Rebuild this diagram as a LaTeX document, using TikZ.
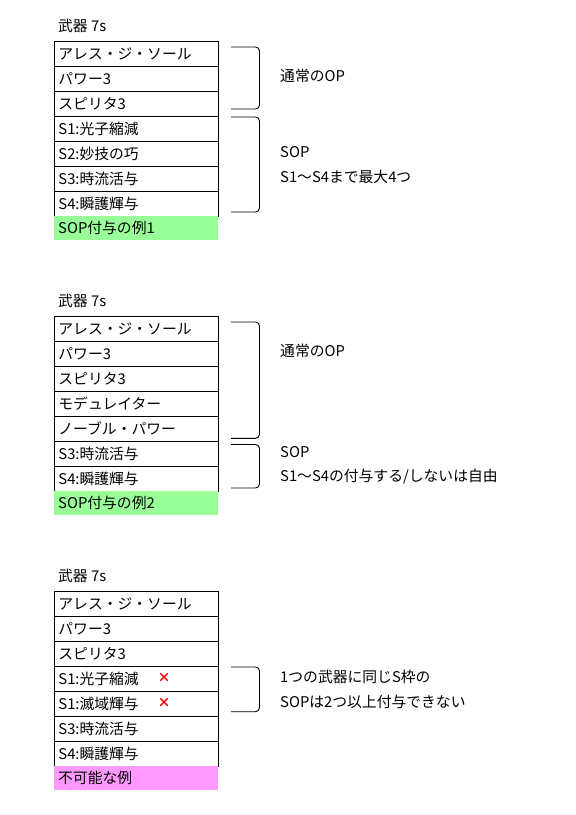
\documentclass[tikz,border=0pt]{standalone}
\usepackage{fontspec}
\setmainfont{Noto Sans CJK JP}
\begin{document}
\begin{tikzpicture}[x=1pt,y=-1pt,
  every node/.style={font=\fontsize{14.8}{16}\selectfont, inner sep=0pt},
  rowbox/.style={draw, line width=0.9pt, anchor=north west, text width=155.7pt, align=left, inner xsep=4pt, inner ysep=0pt, minimum height=25pt},
  tagbox/.style={fill=#1, anchor=north west, text width=155.7pt, align=left, inner xsep=4pt, inner ysep=0pt, minimum height=24.5pt},
  ttl/.style={anchor=west},
  note/.style={anchor=west},
  brk/.style={draw, line width=0.9pt, rounded corners=4pt},
  crossmark/.style={text=red, font=\fontsize{13}{15}\selectfont\bfseries}
]
\useasboundingbox (0,0) rectangle (576,815);
\definecolor{tagGreen}{RGB}{153,255,153}
\definecolor{tagPink}{RGB}{255,153,255}

% ---------- Table 1 ----------
\node[ttl] (t1) at (58,26) {武器 7s};
\node[rowbox] (a1) at (54,40.7) {アレス・ジ・ソール};
\node[rowbox] (a2) at (54,65.7) {パワー3};
\node[rowbox] (a3) at (54,90.7) {スピリタ3};
\node[rowbox] (a4) at (54,115.7) {S1:光子縮減};
\node[rowbox] (a5) at (54,140.7) {S2:妙技の巧};
\node[rowbox] (a6) at (54,165.7) {S3:時流活与};
\node[rowbox] (a7) at (54,190.7) {S4:瞬護輝与};
\node[tagbox=tagGreen] (a8) at (54,215.7) {SOP付与の例1};
\draw[brk] (231,47) -- (259.5,47) -- (259.5,109) -- (231,109);
\draw[brk] (231,117) -- (259.5,117) -- (259.5,212) -- (231,212);
\node[note] (n1) at (280,76) {通常のOP};
\node[note] (n2) at (280,152) {SOP};
\node[note] (n3) at (280,176.5) {S1～S4まで最大4つ};

% ---------- Table 2 ----------
\node[ttl] (t2) at (58,301) {武器 7s};
\node[rowbox] (b1) at (54,315.7) {アレス・ジ・ソール};
\node[rowbox] (b2) at (54,340.7) {パワー3};
\node[rowbox] (b3) at (54,365.7) {スピリタ3};
\node[rowbox] (b4) at (54,390.7) {モデュレイター};
\node[rowbox] (b5) at (54,415.7) {ノーブル・パワー};
\node[rowbox] (b6) at (54,440.7) {S3:時流活与};
\node[rowbox] (b7) at (54,465.7) {S4:瞬護輝与};
\node[tagbox=tagGreen] (b8) at (54,490.7) {SOP付与の例2};
\draw[brk] (231,322) -- (259.5,322) -- (259.5,438.3) -- (231,438.3);
\draw[brk] (231,444.5) -- (259.5,444.5) -- (259.5,488) -- (231,488);
\node[note] (m1) at (280,351.2) {通常のOP};
\node[note] (m2) at (280,452.2) {SOP};
\node[note] (m3) at (280,476.2) {S1～S4の付与する/しないは自由};

% ---------- Table 3 ----------
\node[ttl] (t3) at (58,576) {武器 7s};
\node[rowbox] (c1) at (54,590.7) {アレス・ジ・ソール};
\node[rowbox] (c2) at (54,615.7) {パワー3};
\node[rowbox] (c3) at (54,640.7) {スピリタ3};
\node[rowbox] (c4) at (54,665.7) {S1:光子縮減};
\node[rowbox] (c5) at (54,690.7) {S1:滅域輝与};
\node[rowbox] (c6) at (54,715.7) {S3:時流活与};
\node[rowbox] (c7) at (54,740.7) {S4:瞬護輝与};
\node[tagbox=tagPink] (c8) at (54,765.7) {不可能な例};
\node[crossmark] (x1) at (164,678.2) {×};
\node[crossmark] (x2) at (164,703.2) {×};
\draw[brk] (231,667) -- (259.5,667) -- (259.5,711.7) -- (231,711.7);
\node[note] (k1) at (280,676.5) {1つの武器に同じS枠の};
\node[note] (k2) at (280,701.5) {SOPは2つ以上付与できない};
\end{tikzpicture}
\end{document}
